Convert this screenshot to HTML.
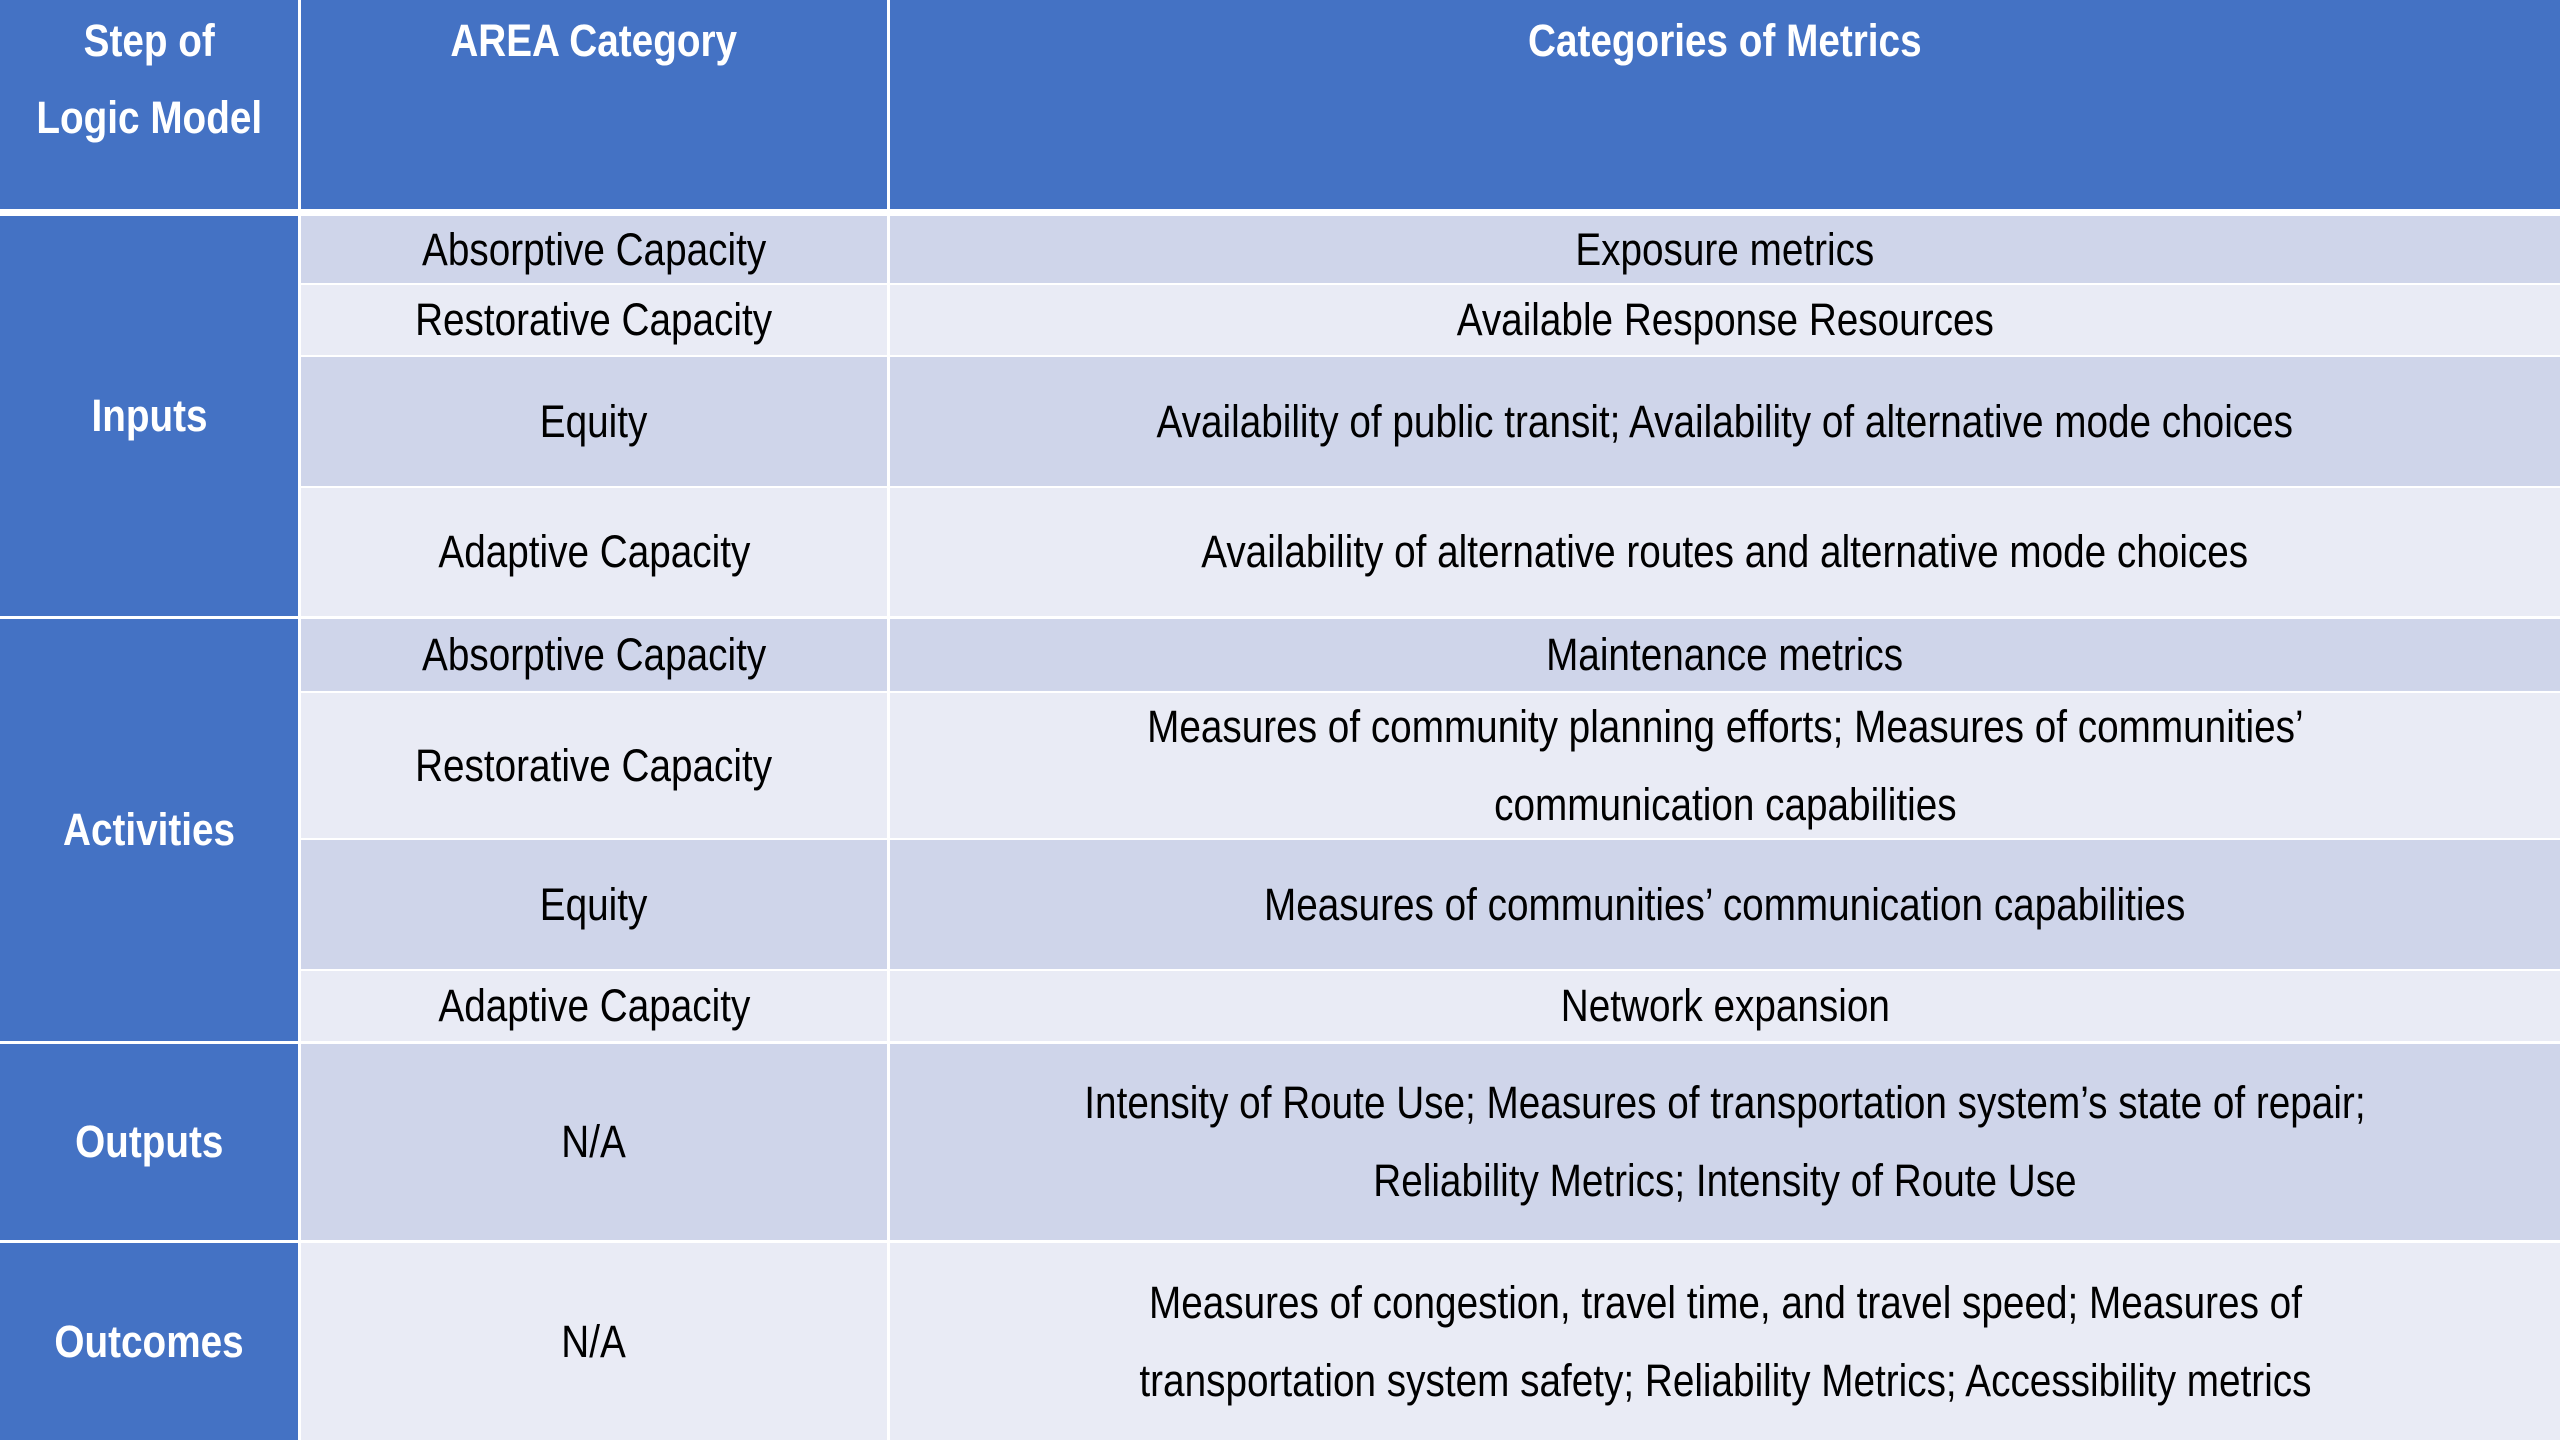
<!DOCTYPE html>
<html><head><meta charset="utf-8"><style>
html,body{margin:0;padding:0;}
body{width:2560px;height:1440px;position:relative;background:#fff;overflow:hidden;font-family:"Liberation Sans",sans-serif;}
.c{position:absolute;display:flex;align-items:center;justify-content:center;text-align:center;box-sizing:border-box;font-size:45px;line-height:78px;color:#000;}
.c span{display:inline-block;transform:scaleX(0.86);white-space:nowrap;}
.h{background:#4472C4;color:#fff;font-weight:bold;align-items:flex-start;padding-top:2px;line-height:77px;}
.s{background:#4472C4;color:#fff;font-weight:bold;}
.d{background:#CFD5EA;}
.l{background:#E9EBF5;}
</style></head><body>
<div class="c h" style="left:0;top:0;width:298px;height:209px;"><span>Step of<br>Logic Model</span></div>
<div class="c h" style="left:301px;top:0;width:586px;height:209px;"><span>AREA Category</span></div>
<div class="c h" style="left:890px;top:0;width:1670px;height:209px;"><span>Categories of Metrics</span></div>

<div class="c s" style="left:0;top:216px;width:298px;height:400px;"><span>Inputs</span></div>
<div class="c s" style="left:0;top:619px;width:298px;height:422px;"><span>Activities</span></div>
<div class="c s" style="left:0;top:1044px;width:298px;height:196px;"><span>Outputs</span></div>
<div class="c s" style="left:0;top:1243px;width:298px;height:197px;"><span>Outcomes</span></div>

<div class="c d" style="left:301px;top:216px;width:586px;height:67px;"><span>Absorptive Capacity</span></div>
<div class="c d" style="left:890px;top:216px;width:1670px;height:67px;"><span>Exposure metrics</span></div>
<div class="c l" style="left:301px;top:285px;width:586px;height:70px;"><span>Restorative Capacity</span></div>
<div class="c l" style="left:890px;top:285px;width:1670px;height:70px;"><span>Available Response Resources</span></div>
<div class="c d" style="left:301px;top:357px;width:586px;height:129px;"><span>Equity</span></div>
<div class="c d" style="left:890px;top:357px;width:1670px;height:129px;"><span>Availability of public transit; Availability of alternative mode choices</span></div>
<div class="c l" style="left:301px;top:488px;width:586px;height:128px;"><span>Adaptive Capacity</span></div>
<div class="c l" style="left:890px;top:488px;width:1670px;height:128px;"><span>Availability of alternative routes and alternative mode choices</span></div>

<div class="c d" style="left:301px;top:619px;width:586px;height:72px;"><span>Absorptive Capacity</span></div>
<div class="c d" style="left:890px;top:619px;width:1670px;height:72px;"><span>Maintenance metrics</span></div>
<div class="c l" style="left:301px;top:693px;width:586px;height:145px;"><span>Restorative Capacity</span></div>
<div class="c l" style="left:890px;top:693px;width:1670px;height:145px;"><span>Measures of community planning efforts; Measures of communities’<br>communication capabilities</span></div>
<div class="c d" style="left:301px;top:840px;width:586px;height:129px;"><span>Equity</span></div>
<div class="c d" style="left:890px;top:840px;width:1670px;height:129px;"><span>Measures of communities’ communication capabilities</span></div>
<div class="c l" style="left:301px;top:971px;width:586px;height:70px;"><span>Adaptive Capacity</span></div>
<div class="c l" style="left:890px;top:971px;width:1670px;height:70px;"><span>Network expansion</span></div>

<div class="c d" style="left:301px;top:1044px;width:586px;height:196px;"><span>N/A</span></div>
<div class="c d" style="left:890px;top:1044px;width:1670px;height:196px;"><span>Intensity of Route Use; Measures of transportation system’s state of repair;<br>Reliability Metrics; Intensity of Route Use</span></div>
<div class="c l" style="left:301px;top:1243px;width:586px;height:197px;"><span>N/A</span></div>
<div class="c l" style="left:890px;top:1243px;width:1670px;height:197px;"><span>Measures of congestion, travel time, and travel speed; Measures of<br>transportation system safety; Reliability Metrics; Accessibility metrics</span></div>
</body></html>
